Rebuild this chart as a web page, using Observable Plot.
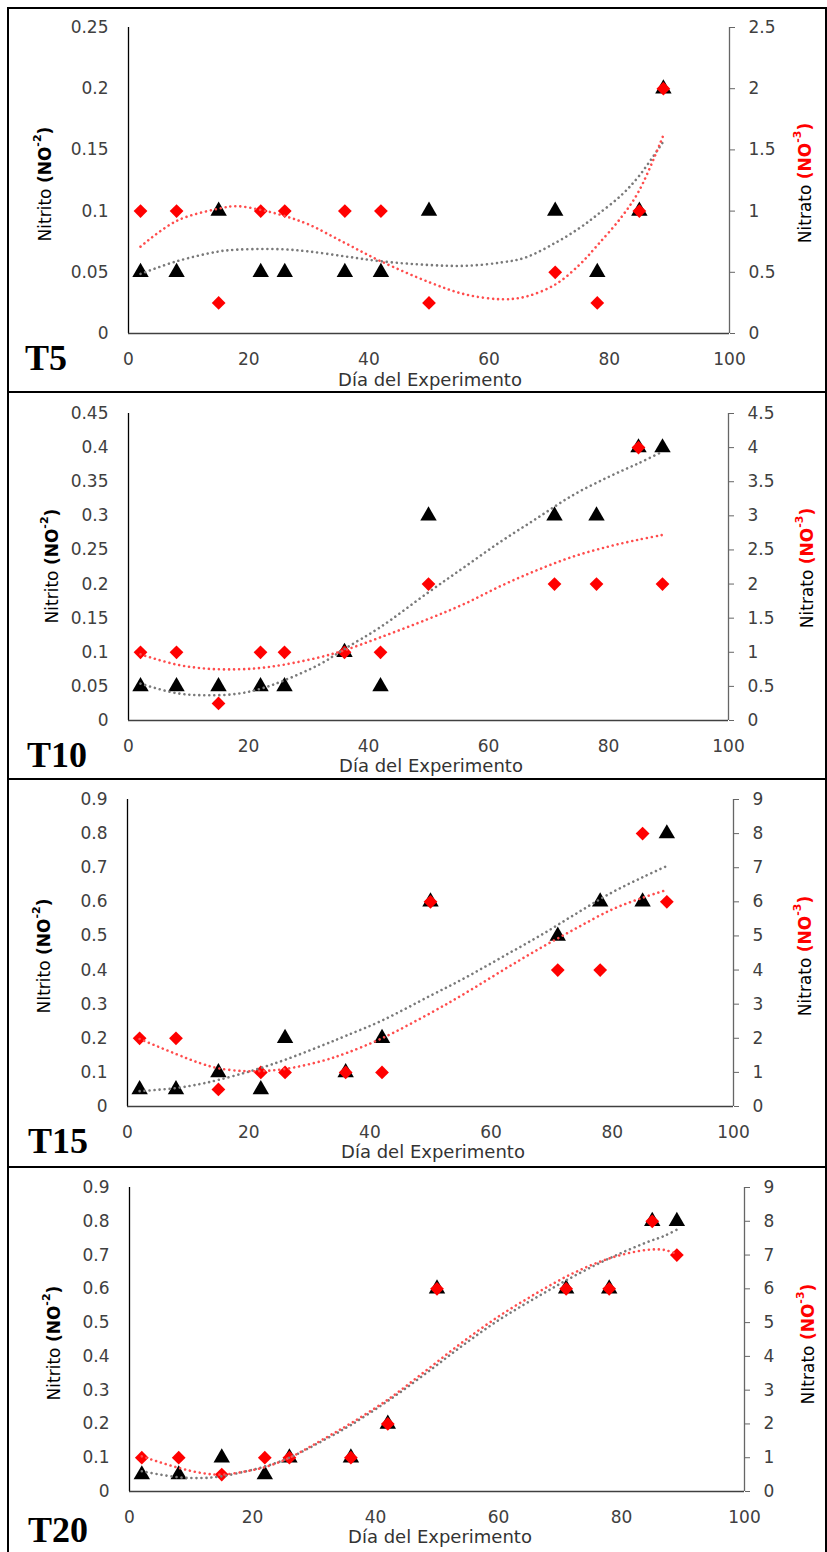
<!DOCTYPE html>
<html>
<head>
<meta charset="utf-8">
<script src="https://cdn.jsdelivr.net/npm/d3@7"></script>
<script src="https://cdn.jsdelivr.net/npm/@observablehq/plot@0.6"></script>
<style>
  body { margin: 0; background: #fff; }
  #wrap { position: relative; width: 827px; height: 1552px; overflow: hidden; background: #fff; }
  .panel { position: absolute; left: 7px; width: 820px; border: 2px solid #000; box-sizing: border-box; }
  .chart { position: absolute; left: 0; }
</style>
</head>
<body>
<div id="wrap"></div>
<script>
// ---------- data ----------
const dias = [2, 8, 15, 22, 26, 36, 42, 50, 71, 78, 85, 89];
const xTicks = [0, 20, 40, 60, 80, 100];

const nitritoT5  = [0.05, 0.05, 0.1, 0.05, 0.05, 0.05, 0.05, 0.1, 0.1, 0.05, 0.1, 0.2];
const nitratoT5  = [1, 1, 0.25, 1, 1, 1, 1, 0.25, 0.5, 0.25, 1, 2];
const nitritoT10 = [0.05, 0.05, 0.05, 0.05, 0.05, 0.1, 0.05, 0.3, 0.3, 0.3, 0.4, 0.4];
const nitratoT10 = [1, 1, 0.25, 1, 1, 1, 1, 2, 2, 2, 4, 2];
const nitritoT15 = [0.05, 0.05, 0.1, 0.05, 0.2, 0.1, 0.2, 0.6, 0.5, 0.6, 0.6, 0.8];
const nitratoT15 = [2, 2, 0.5, 1, 1, 1, 1, 6, 4, 4, 8, 6];
const nitritoT20 = [0.05, 0.05, 0.1, 0.05, 0.1, 0.1, 0.2, 0.6, 0.6, 0.6, 0.8, 0.8];
const nitratoT20 = [1, 1, 0.5, 1, 1, 1, 2, 6, 6, 6, 8, 7];

const nitritoTicksT5 = [0, 0.05, 0.1, 0.15, 0.2, 0.25];
const nitratoTicksT5 = [0, 0.5, 1, 1.5, 2, 2.5];
const nitritoTicksT10 = [0, 0.05, 0.1, 0.15, 0.2, 0.25, 0.3, 0.35, 0.4, 0.45];
const nitratoTicksT10 = [0, 0.5, 1, 1.5, 2, 2.5, 3, 3.5, 4, 4.5];
const nitritoTicksT15 = [0, 0.1, 0.2, 0.3, 0.4, 0.5, 0.6, 0.7, 0.8, 0.9];
const nitratoTicksT15 = [0, 1, 2, 3, 4, 5, 6, 7, 8, 9];

// trend lines (polynomial trendlines)
const trendDiasT5 = [2, 8, 15, 18, 22, 26, 30, 36, 42, 50, 56, 62, 66, 71, 75, 78, 82, 85, 89];
const trendNitritoT5 = [0.0487, 0.059, 0.067, 0.0685, 0.069, 0.0687, 0.067, 0.063, 0.059, 0.056, 0.0553, 0.058, 0.062, 0.074, 0.086, 0.097, 0.113, 0.129, 0.157];
const trendNitratoT5 = [0.71, 0.92, 1.02, 1.04, 1.01, 0.96, 0.89, 0.74, 0.59, 0.42, 0.32, 0.28, 0.30, 0.40, 0.56, 0.72, 0.95, 1.17, 1.62];

const trendDiasT10 = [2, 8, 13, 18, 22, 26, 32, 36, 42, 50, 56, 62, 68, 74, 80, 85, 89];
const trendNitritoT10 = [0.054, 0.040, 0.037, 0.039, 0.0465, 0.059, 0.083, 0.105, 0.137, 0.188, 0.225, 0.262, 0.296, 0.33, 0.357, 0.377, 0.394];
const trendNitratoT10 = [0.97, 0.82, 0.76, 0.75, 0.77, 0.82, 0.93, 1.03, 1.22, 1.49, 1.71, 1.97, 2.20, 2.40, 2.55, 2.65, 2.72];

const trendDiasT15 = [2, 8, 12, 15, 19, 22, 26, 32, 36, 42, 50, 56, 62, 68, 74, 80, 85, 89];
const trendNitritoT15 = [0.045, 0.054, 0.066, 0.078, 0.097, 0.113, 0.137, 0.178, 0.207, 0.252, 0.325, 0.38, 0.44, 0.50, 0.565, 0.628, 0.672, 0.705];
const trendNitratoT15 = [1.98, 1.54, 1.27, 1.12, 1.04, 1.04, 1.10, 1.33, 1.56, 2.0, 2.74, 3.35, 4.0, 4.63, 5.22, 5.78, 6.12, 6.35];

const trendDiasT20 = [2, 8, 12, 15, 19, 22, 26, 32, 36, 42, 48, 54, 60, 66, 72, 78, 84, 87, 89];
const trendNitritoT20 = [0.060, 0.042, 0.040, 0.045, 0.060, 0.074, 0.10, 0.156, 0.197, 0.268, 0.347, 0.43, 0.507, 0.573, 0.635, 0.69, 0.737, 0.757, 0.775];
const trendNitratoT20 = [1.04, 0.70, 0.54, 0.50, 0.60, 0.72, 1.0, 1.6, 2.02, 2.72, 3.55, 4.4, 5.18, 5.85, 6.45, 6.9, 7.15, 7.15, 7.03];

// ---------- layout ----------
const panels = [
  {name: "T5", top: 8, height: 384, mL: 128, mR: 98, mT: 19, mB: 59,
   nitrito: nitritoT5, nitrato: nitratoT5, nitritoTicks: nitritoTicksT5, nitratoTicks: nitratoTicksT5,
   tDias: trendDiasT5, tNitrito: trendNitritoT5, tNitrato: trendNitratoT5,
   leftWord: "Nitrito", rightWord: "Nitrato",
   tx: 25, ty: 362, lx: 45, ly: 176, rx: 805, ry: 175, xlx: 430, xly: 378},
  {name: "T10", top: 392, height: 387, mL: 128, mR: 99, mT: 21, mB: 59,
   nitrito: nitritoT10, nitrato: nitratoT10, nitritoTicks: nitritoTicksT10, nitratoTicks: nitratoTicksT10,
   tDias: trendDiasT10, tNitrito: trendNitritoT10, tNitrato: trendNitratoT10,
   leftWord: "Nitrito", rightWord: "Nitrato",
   tx: 27, ty: 375, lx: 52, ly: 174, rx: 807, ry: 176, xlx: 431, xly: 380},
  {name: "T15", top: 779, height: 388, mL: 127, mR: 94, mT: 20, mB: 61,
   nitrito: nitritoT15, nitrato: nitratoT15, nitritoTicks: nitritoTicksT15, nitratoTicks: nitratoTicksT15,
   tDias: trendDiasT15, tNitrito: trendNitritoT15, tNitrato: trendNitratoT15,
   leftWord: "NItrito", rightWord: "Nitrato",
   tx: 28, ty: 374, lx: 44, ly: 177, rx: 805, ry: 177, xlx: 433, xly: 379},
  {name: "T20", top: 1167, height: 385, mL: 129, mR: 83, mT: 20, mB: 61,
   nitrito: nitritoT20, nitrato: nitratoT20, nitritoTicks: nitritoTicksT15, nitratoTicks: nitratoTicksT15,
   tDias: trendDiasT20, tNitrito: trendNitritoT20, tNitrato: trendNitratoT20,
   leftWord: "Nitrito", rightWord: "NItrato",
   tx: 28, ty: 375, lx: 54, ly: 176, rx: 808, ry: 177, xlx: 440, xly: 376}
];

const fmt = d3.format("~g");
const wrap = document.getElementById("wrap");
const FONT = "DejaVu Sans, sans-serif";

panels.forEach((p, k) => {
  // border box
  const box = document.createElement("div");
  box.className = "panel";
  box.style.top = (p.top - 1) + "px";
  box.style.height = (k === panels.length - 1 ? p.height + 4 : p.height + 2) + "px";
  wrap.appendChild(box);

  const rows = dias.map((d, i) => ({dia: d, nitrito: p.nitrito[i], nitrato: p.nitrato[i]}));
  const trend = p.tDias.map((d, i) => ({dia: d, nitrito: p.tNitrito[i], nitrato: p.tNitrato[i]}));
  const yMax = p.nitritoTicks[p.nitritoTicks.length - 1];

  const chart = Plot.plot({
    width: 827,
    height: p.height,
    marginLeft: p.mL, marginRight: p.mR, marginTop: p.mT, marginBottom: p.mB,
    x: {domain: [0, 100]},
    y: {domain: [0, yMax]},
    style: {fontFamily: FONT, fontSize: "17px", color: "#404040", background: "transparent", overflow: "visible"},
    marks: [
      Plot.axisX(xTicks, {tickSize: 0, tickPadding: 19, label: null, fontSize: 17, fill: "#404040"}),
      Plot.axisY(p.nitritoTicks, {anchor: "left", tickSize: 0, tickPadding: 20, tickFormat: fmt, label: null, fontSize: 17, fill: "#404040"}),
      Plot.axisY(p.nitratoTicks.map(v => v / 10), {anchor: "right", tickSize: 5, tickPadding: 14, tickFormat: d => fmt(d * 10), label: null, fontSize: 17, fill: "#404040", stroke: "#666"}),
      Plot.ruleX([100], {stroke: "#666", strokeWidth: 1.3}),
      Plot.ruleX([0], {stroke: "#000", strokeWidth: 1.3}),
      Plot.ruleY([0], {stroke: "#404040", strokeWidth: 1.5}),
      Plot.dot(rows, {x: "dia", y: "nitrito", symbol: "triangle", r: 6.1, fill: "#000", stroke: null}),
      Plot.dot(rows, {x: "dia", y: d => d.nitrato / 10, symbol: "diamond2", r: 6.2, fill: "#ff0000", stroke: null}),
      Plot.line(trend, {x: "dia", y: "nitrito", curve: "catmull-rom", stroke: "#7a7a7a", strokeWidth: 2.6, strokeDasharray: "0.01,5", strokeLinecap: "round"}),
      Plot.line(trend, {x: "dia", y: d => d.nitrato / 10, curve: "catmull-rom", stroke: "#ff4d4d", strokeWidth: 2.6, strokeDasharray: "0.01,5", strokeLinecap: "round"})
    ]
  });
  chart.classList.add("chart");
  chart.style.top = p.top + "px";
  wrap.appendChild(chart);

  const svg = d3.select(chart);

  // T label
  svg.append("text")
    .attr("x", p.tx).attr("y", p.ty).attr("text-anchor", "start")
    .style("font-family", "Liberation Serif, Times New Roman, serif")
    .style("font-weight", "bold").style("font-size", "36px").attr("fill", "#000")
    .text(p.name);

  // x label
  svg.append("text")
    .attr("x", p.xlx).attr("y", p.xly).attr("text-anchor", "middle")
    .style("font-family", FONT).style("font-size", "18px").attr("fill", "#333")
    .text("Día del Experimento");

  // rotated y labels
  function rotLabel(cx, cy, word, sup, color) {
    const t = svg.append("text")
      .attr("transform", `translate(${cx},${cy}) rotate(-90)`)
      .attr("text-anchor", "middle").attr("dominant-baseline", "central")
      .style("font-family", FONT).style("font-size", "17px").attr("fill", "#000");
    t.append("tspan").text(word + " ");
    t.append("tspan").attr("font-weight", "bold").attr("fill", color).text("(NO");
    t.append("tspan").attr("font-weight", "bold").attr("fill", color).attr("font-size", "11px").attr("dy", "-0.7em").text(sup);
    t.append("tspan").attr("font-weight", "bold").attr("fill", color).attr("dy", "0.45em").text(")");
  }
  rotLabel(p.lx, p.ly, p.leftWord, "-2", "#000");
  rotLabel(p.rx, p.ry, p.rightWord, "-3", "#ff0000");
});
</script>
</body>
</html>
